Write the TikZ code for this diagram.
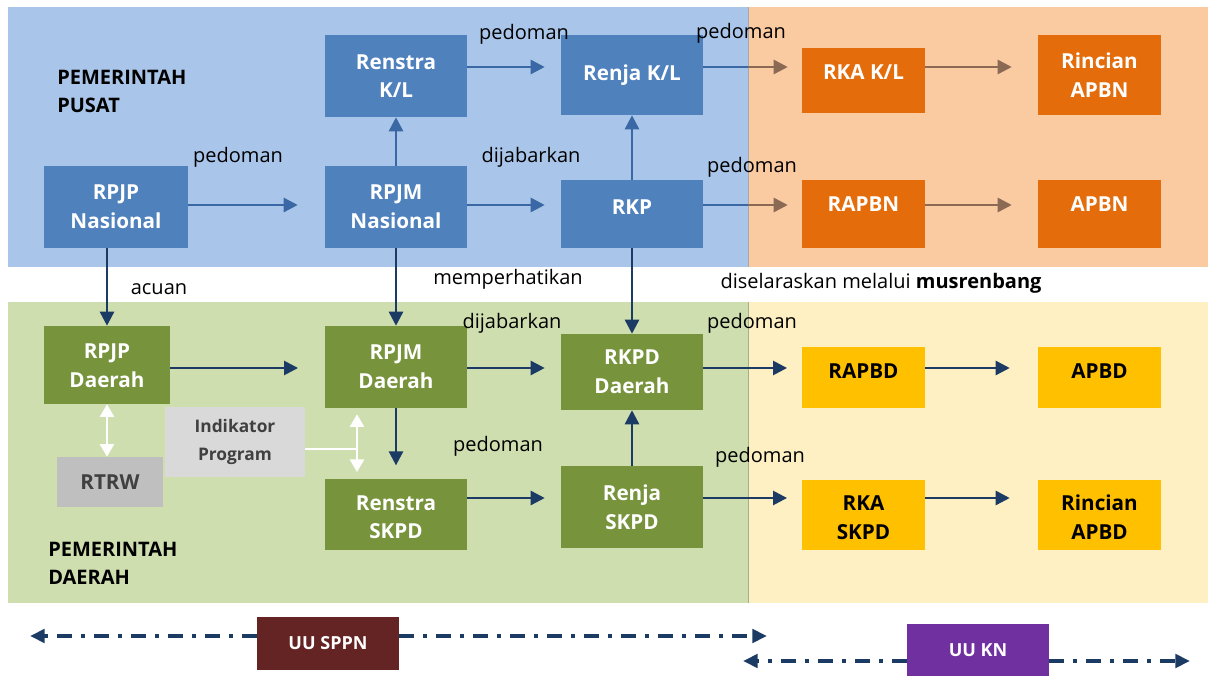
\documentclass[tikz,border=0pt]{standalone}
\usepackage{fontspec}
\setmainfont{Open Sans}
\usetikzlibrary{arrows.meta}
\definecolor{bgblue}{HTML}{A9C6EA}
\definecolor{bgorange}{HTML}{FACAA1}
\definecolor{bggreen}{HTML}{CFDEAF}
\definecolor{bgyellow}{HTML}{FEF0C2}
\definecolor{nblue}{HTML}{4F81BD}
\definecolor{norange}{HTML}{E46C0A}
\definecolor{ngreen}{HTML}{77933C}
\definecolor{nyellow}{HTML}{FFC000}
\definecolor{ngray}{HTML}{BFBFBF}
\definecolor{nlgray}{HTML}{D9D9D9}
\definecolor{nmaroon}{HTML}{632423}
\definecolor{npurple}{HTML}{7030A0}
\definecolor{ablue}{HTML}{3A68A4}
\definecolor{anavy}{HTML}{1B3A64}
\definecolor{abrown}{HTML}{8B6A55}
\definecolor{dtext}{HTML}{404040}
\definecolor{sepline}{HTML}{A8A8B0}
\newcommand{\shifttext}[2]{\raisebox{#1}[\height][\depth]{\begin{tabular}{@{}c@{}}#2\end{tabular}}}
\begin{document}
\begin{tikzpicture}[x=0.75pt,y=-0.75pt,
  sz/.style 2 args={minimum width=#1*0.75pt, minimum height=#2*0.75pt},
  box/.style={rectangle, inner sep=1pt, align=center, text=white,
    font=\bfseries\fontsize{15.5}{21.5}\selectfont},
  bluebox/.style={box, fill=nblue},
  orangebox/.style={box, fill=norange},
  greenbox/.style={box, fill=ngreen},
  yellowbox/.style={box, fill=nyellow, text=black},
  lbl/.style={font=\fontsize{15}{18}\selectfont, text=black, inner sep=0pt},
  head/.style={font=\bfseries\fontsize{15}{21}\selectfont, text=black, align=left, anchor=west, inner sep=0pt},
  arr/.style={-{Triangle[length=10.5pt,width=10.5pt]}, line width=1.9pt},
  warr/.style={{Triangle[length=9.5pt,width=10.5pt]}-{Triangle[length=9.5pt,width=10.5pt]}, line width=1.9pt, white},
  dd/.style={-{Triangle[length=11pt,width=10pt]}, line width=3pt, anavy,
    dash pattern=on 11.25pt off 6.75pt on 3pt off 6.75pt},
]
\useasboundingbox (0,0) rectangle (1208,677);
% backgrounds
\fill[bgblue] (8,7) rectangle (748,267);
\fill[bgorange] (748,7) rectangle (1208,267);
\fill[bggreen] (8,302) rectangle (748,603);
\fill[bgyellow] (748,302) rectangle (1208,603);
\draw[sepline, line width=0.6pt] (748,7) -- (748,267);
\draw[bggreen!80!black, line width=0.4pt] (748,302) -- (748,603);

% headings
\node[head] (hpusat) at (57,91) {PEMERINTAH\\PUSAT};
\node[head] (hdaerah) at (48,563) {PEMERINTAH\\DAERAH};

% row coordinates
\coordinate (r67) at (0,67);
\coordinate (r205) at (0,205);
\coordinate (r368) at (0,368);
\coordinate (r498) at (0,498);
\coordinate (sep) at (748,0);

% nodes - pusat
\node[bluebox, sz={144}{82}] (rpjpn) at (116,207) {RPJP\\Nasional};
\node[bluebox, sz={142}{82}] (renstrakl) at (396,76) {Renstra\\K/L};
\node[bluebox, sz={142}{80}] (renjakl) at (632,75) {Renja K/L};
\node[bluebox, sz={142}{82}] (rpjmn) at (396,207) {RPJM\\Nasional};
\node[bluebox, sz={142}{68}] (rkp) at (632,214) {\shifttext{4pt}{RKP}};
\node[orangebox, sz={123}{65}] (rkakl) at (863.5,80.5) {\shifttext{5.25pt}{RKA K/L}};
\node[orangebox, sz={123}{80}] (rincianapbn) at (1099.5,75) {Rincian\\APBN};
\node[orangebox, sz={123}{68}] (rapbn) at (863.5,214) {\shifttext{6pt}{RAPBN}};
\node[orangebox, sz={123}{68}] (apbn) at (1099.5,214) {\shifttext{6pt}{APBN}};

% nodes - daerah
\node[greenbox, sz={126}{78}] (rpjpd) at (107,365) {\shifttext{-1.5pt}{RPJP\\Daerah}};
\node[greenbox, sz={142}{82}] (rpjmd) at (396,367) {RPJM\\Daerah};
\node[greenbox, sz={142}{76}] (rkpd) at (632,372) {RKPD\\Daerah};
\node[yellowbox, sz={123}{61}] (rapbd) at (863.5,377.5) {\shifttext{3.75pt}{RAPBD}};
\node[yellowbox, sz={123}{61}] (apbd) at (1099.5,377.5) {\shifttext{3.75pt}{APBD}};
\node[box, fill=nlgray, text=dtext, sz={140}{70}, font=\bfseries\fontsize{13}{21}\selectfont] (indikator) at (235,442) {Indikator\\Program};
\node[box, fill=ngray, text=dtext, sz={106}{50}] (rtrw) at (110,482) {RTRW};
\node[greenbox, sz={142}{71}] (renstraskpd) at (396,514.5) {\shifttext{-3.25pt}{Renstra\\SKPD}};
\node[greenbox, sz={142}{82}] (renjaskpd) at (632,507) {Renja\\SKPD};
\node[yellowbox, sz={123}{70}] (rkaskpd) at (863.5,515) {\shifttext{-3pt}{RKA\\SKPD}};
\node[yellowbox, sz={123}{70}] (rincianapbd) at (1099.5,515) {\shifttext{-3pt}{Rincian\\APBD}};

% horizontal arrows - pusat
\draw[arr, ablue, shorten >=20.25pt] (rpjpn.east |- r205) -- (rpjmn.west |- r205);
\draw[arr, ablue, shorten >=12pt] (rpjmn.east |- r205) -- (rkp.west |- r205);
\draw[arr, ablue, shorten >=12pt] (renstrakl.east |- r67) -- (renjakl.west |- r67);
\draw[arr, abrown, shorten >=10.5pt] (renjakl.east |- r67) -- (rkakl.west |- r67);
\draw[ablue, line width=1.9pt] (renjakl.east |- r67) -- (sep |- r67);
\draw[arr, abrown, shorten >=19.5pt] (rkakl.east |- r67) -- (rincianapbn.west |- r67);
\draw[arr, abrown, shorten >=10.5pt] (rkp.east |- r205) -- (rapbn.west |- r205);
\draw[ablue, line width=1.9pt] (rkp.east |- r205) -- (sep |- r205);
\draw[arr, abrown, shorten >=19.5pt] (rapbn.east |- r205) -- (apbn.west |- r205);

% vertical arrows - pusat
\draw[arr, ablue] (rpjmn.north) -- (renstrakl.south);
\draw[arr, ablue] (rkp.north) -- (renjakl.south);

% vertical arrows pusat -> daerah
\draw[arr, anavy] (rpjpn.south -| rpjpd.north) -- (rpjpd.north);
\draw[arr, anavy] (rpjmn.south) -- (rpjmd.north);
\draw[arr, anavy] (rkp.south) -- (rkpd.north);

% daerah arrows
\draw[arr, anavy, shorten >=20pt] (rpjpd.east |- r368) -- (rpjmd.west |- r368);
\draw[arr, anavy, shorten >=12pt] (rpjmd.east |- r368) -- (rkpd.west |- r368);
\draw[arr, anavy, shorten >=11pt] (rkpd.east |- r368) -- (rapbd.west |- r368);
\draw[arr, anavy, shorten >=21pt] (rapbd.east |- r368) -- (apbd.west |- r368);
\draw[arr, anavy, shorten >=12pt] (renstraskpd.east |- r498) -- (renjaskpd.west |- r498);
\draw[arr, anavy, shorten >=11pt] (renjaskpd.east |- r498) -- (rkaskpd.west |- r498);
\draw[arr, anavy, shorten >=21pt] (rkaskpd.east |- r498) -- (rincianapbd.west |- r498);
\draw[arr, anavy, shorten >=10pt] (rpjmd.south) -- (renstraskpd.north);
\draw[arr, anavy] (renjaskpd.north) -- (rkpd.south);

% white links
\draw[warr] (rpjpd.south) -- (rpjpd.south |- rtrw.north);
\coordinate (wx) at (357,449);
\draw[white, line width=1.5pt] (indikator.east |- wx) -- (wx);
\draw[warr, shorten <=4.5pt, shorten >=5pt] (wx |- rpjmd.south) -- (wx |- renstraskpd.north);

% labels
\node[lbl] (l1) at (238,157) {pedoman};
\node[lbl] (l2) at (531,157) {dijabarkan};
\node[lbl] (l3) at (524,34) {pedoman};
\node[lbl] (l4) at (741,33) {pedoman};
\node[lbl] (l5) at (752,167) {pedoman};
\node[lbl] (l6) at (159,289) {acuan};
\node[lbl] (l7) at (508,279) {memperhatikan};
\node[lbl] (l8) at (881,283) {diselaraskan melalui \textbf{musrenbang}};
\node[lbl] (l9) at (512,323) {dijabarkan};
\node[lbl] (l10) at (752,323) {pedoman};
\node[lbl] (l11) at (498,446) {pedoman};
\node[lbl] (l12) at (760,457) {pedoman};

% law bars
\coordinate (s1) at (30,636);
\coordinate (s2) at (767,636);
\coordinate (k1) at (743,661);
\coordinate (k2) at (1190,661);
\node[box, fill=nmaroon, sz={142}{53}, font=\bfseries\fontsize{13.5}{18}\selectfont] (uusppn) at (328,643.5) {UU SPPN};
\node[box, fill=npurple, sz={142}{52}, font=\bfseries\fontsize{13.5}{18}\selectfont] (uukn) at (978,650) {UU KN};
\draw[dd] (uusppn.west |- s1) -- (s1);
\draw[dd] (uusppn.east |- s2) -- (s2);
\draw[dd] (uukn.west |- k1) -- (k1);
\draw[dd] (uukn.east |- k2) -- (k2);
\end{tikzpicture}
\end{document}
